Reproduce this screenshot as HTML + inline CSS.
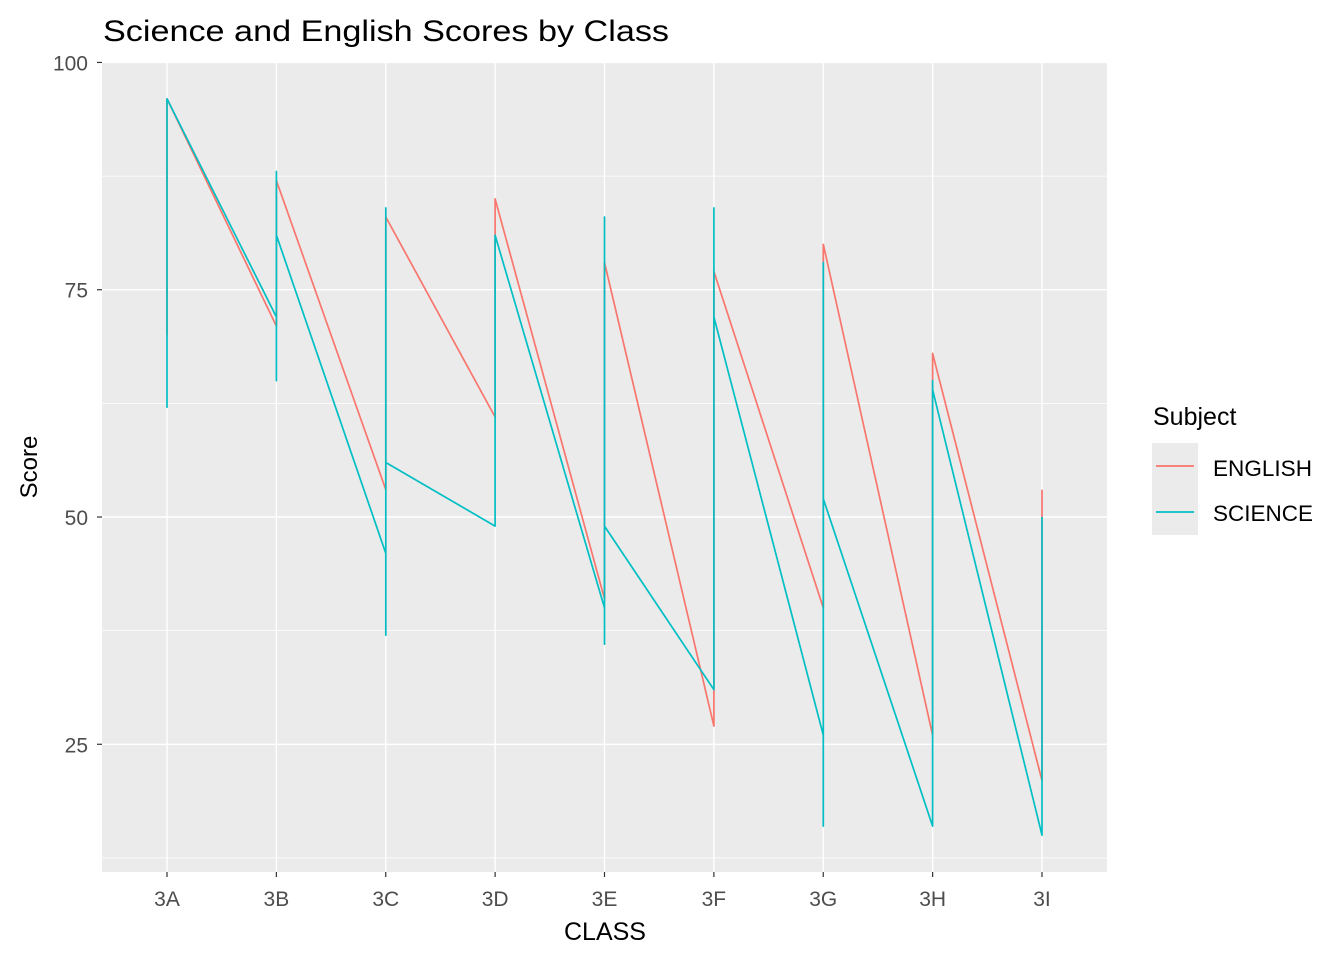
<!DOCTYPE html>
<html><head><meta charset="utf-8"><style>
body{margin:0;background:#fff;}
svg{display:block;font-family:"Liberation Sans",Arial,sans-serif;}
</style></head><body>
<svg id="chart" width="1344" height="960">
<rect x="0" y="0" width="1344" height="960" fill="#fff"/>
<text x="103" y="41" font-size="30" fill="#000" textLength="566" lengthAdjust="spacingAndGlyphs">Science and English Scores by Class</text>
<rect x="102" y="62" width="1005" height="810" fill="#EBEBEB"/>
<g id="grid"></g>
<g id="series"></g>
<g id="axes"></g>
<text x="37" y="467" font-size="24" fill="#000" text-anchor="middle" transform="rotate(-90 37 467)">Score</text>
<text x="605" y="940" font-size="25" fill="#000" text-anchor="middle">CLASS</text>
<g>
<text x="1153" y="425" font-size="25" fill="#000">Subject</text>
<rect x="1152" y="443" width="46" height="46" fill="#EBEBEB"/>
<line x1="1156" y1="466" x2="1194" y2="466" stroke="#F8766D" stroke-width="1.8"/>
<text x="1213" y="476" font-size="22" fill="#000" textLength="99" lengthAdjust="spacingAndGlyphs">ENGLISH</text>
<rect x="1152" y="489" width="46" height="46" fill="#EBEBEB"/>
<line x1="1156" y1="512" x2="1194" y2="512" stroke="#00BFC4" stroke-width="1.8"/>
<text x="1213" y="521" font-size="22" fill="#000" textLength="100" lengthAdjust="spacingAndGlyphs">SCIENCE</text>
</g>
</svg>
<script>
const classes = ["3A","3B","3C","3D","3E","3F","3G","3H","3I"];
const englishScores = [[70,96],[71,87],[53,83],[61,85],[41,78],[27,77],[40,80],[26,68],[21,53]];
const scienceScores = [[62,96],[72,65,88,81],[46,37,84,56],[49,81],[40,36,83,49],[31,84,72],[26,16,78,52],[16,65,64],[15,50]];
const yTicks = [25,50,75,100];
const yMinor = [12.5,37.5,62.5,87.5];

const NS="http://www.w3.org/2000/svg";
const px0=102, px1=1107, py0=62, py1=872;
const yMin=10.95, yMax=100.05;
const xs = i => 167 + i*(1042-167)/(classes.length-1);
const ys = v => py1 - (v-yMin)/(yMax-yMin)*(py1-py0);
function mk(tag, attrs, parent){const e=document.createElementNS(NS,tag);for(const k in attrs)e.setAttribute(k,attrs[k]);parent.appendChild(e);return e;}
const grid=document.getElementById('grid'), axes=document.getElementById('axes'), series=document.getElementById('series');
yMinor.forEach(v=>{
  const l=mk('line',{x1:px0,x2:px1,y1:ys(v),y2:ys(v),stroke:'#fff','stroke-width':0.7},grid);
  
  
});
yTicks.forEach(v=>{
  const l=mk('line',{x1:px0,x2:px1,y1:ys(v),y2:ys(v),stroke:'#fff','stroke-width':1.4},grid);
  
  
  const t=mk('line',{x1:px0-5,x2:px0,y1:ys(v),y2:ys(v),stroke:'#333','stroke-width':1.2},axes);
  
  
  const tx=mk('text',{x:px0-14,y:ys(v)+8,'font-size':21,fill:'#4D4D4D','text-anchor':'end'},axes);
  tx.textContent=v;
  
  
});
classes.forEach((c,i)=>{
  const l=mk('line',{x1:xs(i),x2:xs(i),y1:py0,y2:py1,stroke:'#fff','stroke-width':1.4},grid);
  
  
  const t=mk('line',{x1:xs(i),x2:xs(i),y1:py1,y2:py1+5,stroke:'#333','stroke-width':1.2},axes);
  
  
  const tx=mk('text',{x:xs(i),y:906,'font-size':21,fill:'#4D4D4D','text-anchor':'middle'},axes);
  tx.textContent=c;
  
  
});
function draw(data,color,name){
  const pts=[];
  data.forEach((arr,i)=>arr.forEach(v=>pts.push(xs(i).toFixed(1)+','+ys(v).toFixed(1))));
  const p=mk('polyline',{points:pts.join(' '),fill:'none',stroke:color,'stroke-width':1.7,'stroke-linejoin':'round'},series);
  
  
}
draw(englishScores,'#F8766D','english-line');
draw(scienceScores,'#00BFC4','science-line');
</script>
</body></html>
